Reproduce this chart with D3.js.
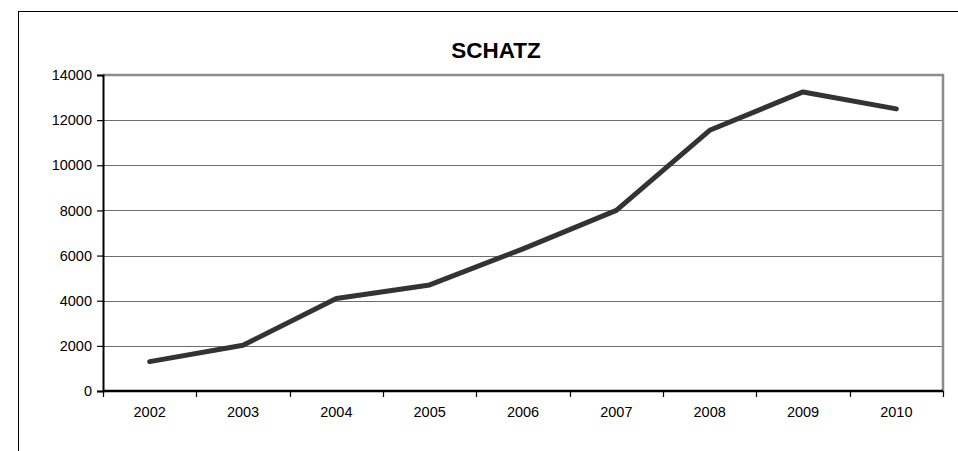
<!DOCTYPE html>
<html><head><meta charset="utf-8">
<script src="https://cdn.jsdelivr.net/npm/d3@7"></script>
<style>html,body{margin:0;padding:0;background:#fff;overflow:hidden}</style>
</head><body>
<svg id="c" width="958" height="451"></svg>
<script>
const title = "SCHATZ";
const years = ["2002","2003","2004","2005","2006","2007","2008","2009","2010"];
const values = [1300, 2030, 4100, 4700, 6300, 8000, 11550, 13250, 12500];
const yTicks = [0, 2000, 4000, 6000, 8000, 10000, 12000, 14000];

const svg = d3.select("#c");
const font = "'Liberation Sans', Arial, sans-serif";
const L = 103, R = 943, T = 75, B = 391;

svg.append("rect").attr("x", 18.5).attr("y", 11.5).attr("width", 1200).attr("height", 1200)
  .attr("fill", "#fff").attr("stroke", "#000").attr("stroke-width", 1);

const x = d3.scaleBand().domain(years).range([L, R]).padding(0);
const y = d3.scaleLinear().domain([0, 14000]).range([B, T]);

// gridlines
svg.append("g").selectAll("line").data(yTicks.filter(d => d > 0 && d < 14000)).join("line")
  .attr("x1", L).attr("x2", R).attr("y1", d => Math.round(y(d)) + 0.5).attr("y2", d => Math.round(y(d)) + 0.5)
  .attr("stroke", "#6e6e6e").attr("stroke-width", 1);

// plot border top/right
svg.append("path").attr("d", `M${L},${T} H${R} V${B}`).attr("fill", "none")
  .attr("stroke", "#8c8c8c").attr("stroke-width", 2.5);

// y axis
const yAxis = d3.axisLeft(y).tickValues(yTicks).tickSize(6).tickPadding(5).tickFormat(d3.format("d"));
const gy = svg.append("g").attr("transform", `translate(${L},0)`).call(yAxis);
gy.select(".domain").attr("stroke", "#000").attr("stroke-width", 2);
gy.selectAll(".tick line").attr("stroke", "#000").attr("stroke-width", 1.2);
gy.selectAll("text").attr("font-family", font).attr("font-size", "14.5px").attr("fill", "#000");

// x axis
const xAxis = d3.axisBottom(x).tickSize(0).tickPadding(16);
const gx = svg.append("g").attr("transform", `translate(0,${B})`).call(xAxis);
gx.select(".domain").attr("stroke", "#000").attr("stroke-width", 2.5).attr("d", `M${L},0H${R}`);
gx.selectAll("text").attr("font-family", font).attr("font-size", "14.5px").attr("fill", "#000");
// category boundary ticks
const bounds = years.map(d => x(d)).concat([R]);
svg.append("g").selectAll("line").data(bounds).join("line")
  .attr("x1", d => Math.round(d) + 0.5).attr("x2", d => Math.round(d) + 0.5)
  .attr("y1", B).attr("y2", B + 6).attr("stroke", "#000").attr("stroke-width", 1.2);

// line
const line = d3.line().x((d, i) => x(years[i]) + x.bandwidth() / 2).y(d => y(d));
svg.append("path").datum(values).attr("d", line).attr("fill", "none")
  .attr("stroke", "#333").attr("stroke-width", 5).attr("stroke-linejoin", "round").attr("stroke-linecap", "round");

// title
svg.append("text").attr("x", 496).attr("y", 58).attr("text-anchor", "middle")
  .attr("font-family", font).attr("font-weight", "bold").attr("font-size", "22.5px").text(title);
</script>
</body></html>
